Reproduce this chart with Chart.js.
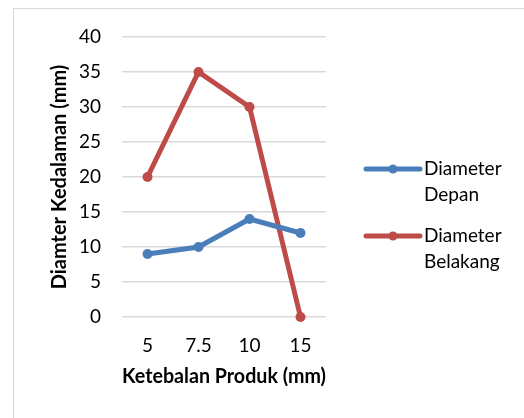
<!DOCTYPE html>
<html>
<head>
<meta charset="utf-8">
<script src="https://cdn.jsdelivr.net/npm/chart.js@4.4.1/dist/chart.umd.min.js"></script>
<style>
  html, body { margin: 0; padding: 0; background: #fff; overflow: hidden; }
  #wrap { position: relative; width: 524px; height: 418px; }
  #frame { position: absolute; left: 13px; top: 8px; width: 600px; height: 500px; border: 1px solid #d9d9d9; box-sizing: border-box; }
  canvas { position: absolute; left: 0; top: 0; }
</style>
</head>
<body>
<div id="wrap">
  <div id="frame"></div>
  <canvas id="chart" width="524" height="418"></canvas>
</div>
<script>
(function () {
    'use strict';

    var categories = ['5', '7.5', '10', '15'];
    var depan = [9, 10, 14, 12];
    var belakang = [20, 35, 30, 0];
    var seriesNames = [['Diameter', 'Depan'], ['Diameter', 'Belakang']];
    var colors = ['#4A7EBB', '#BE4B48'];
    var fontFamily = 'Lato, "Liberation Sans", sans-serif';

    // legend to the right of the plot, each label on two lines
    var sideLegend = {
        id: 'sideLegend',
        afterDraw: function (chart) {
            var ctx = chart.ctx;
            var area = chart.chartArea;
            var x0 = area.right + 40, lineLen = 54, lh = 26;
            var yStart = area.top + 132;
            ctx.save();
            ctx.font = '19px ' + fontFamily;
            ctx.textBaseline = 'middle';
            chart.data.datasets.forEach(function (ds, i) {
                var y = yStart + i * 67;
                ctx.strokeStyle = ds.borderColor;
                ctx.lineWidth = 5;
                ctx.lineCap = 'round';
                ctx.beginPath();
                ctx.moveTo(x0, y);
                ctx.lineTo(x0 + lineLen, y);
                ctx.stroke();
                ctx.fillStyle = ds.borderColor;
                ctx.beginPath();
                ctx.arc(x0 + lineLen / 2, y, 4.5, 0, Math.PI * 2);
                ctx.fill();
                ctx.fillStyle = '#000';
                ds.label.forEach(function (t, j) {
                    ctx.fillText(t, x0 + lineLen + 4, y + j * lh);
                });
            });
            ctx.restore();
        }
    };

    var ctx = document.getElementById('chart');
    new Chart(ctx, {
        type: 'line',
        data: {
            labels: categories,
            datasets: [
                { label: seriesNames[0], data: depan, borderColor: colors[0], backgroundColor: colors[0], borderWidth: 5, pointRadius: 5, pointBorderWidth: 0, pointHoverRadius: 5, tension: 0, clip: false },
                { label: seriesNames[1], data: belakang, borderColor: colors[1], backgroundColor: colors[1], borderWidth: 5, pointRadius: 5, pointBorderWidth: 0, pointHoverRadius: 5, tension: 0, clip: false }
            ]
        },
        options: {
            responsive: false,
            animation: false,
            devicePixelRatio: 1,
            layout: { padding: { left: 48, right: 198, top: 37, bottom: 0 } },
            plugins: { legend: { display: false }, tooltip: { enabled: false } },
            scales: {
                x: {
                    offset: true,
                    grid: { display: false, drawTicks: false },
                    border: { display: false },
                    ticks: { color: '#000', padding: 17, font: { family: fontFamily, size: 19 } },
                    title: { display: true, text: 'Ketebalan Produk (mm)', color: '#000', padding: { top: 0, bottom: 29 }, font: { family: fontFamily, size: 20, weight: 'bold' } },
                    afterFit: function (s) { s.height = 101; }
                },
                y: {
                    min: 0, max: 40,
                    ticks: { stepSize: 5, color: '#000', padding: 21, font: { family: fontFamily, size: 19 } },
                    grid: { color: '#d9d9d9', lineWidth: 1.5, drawTicks: false },
                    border: { display: false },
                    title: { display: true, text: 'Diamter Kedalaman (mm)', color: '#000', padding: { top: 0, bottom: 0 }, font: { family: fontFamily, size: 20, weight: 'bold' } },
                    afterFit: function (s) { s.width = 74; }
                }
            }
        },
        plugins: [sideLegend]
    });
})();
</script>
</body>
</html>
